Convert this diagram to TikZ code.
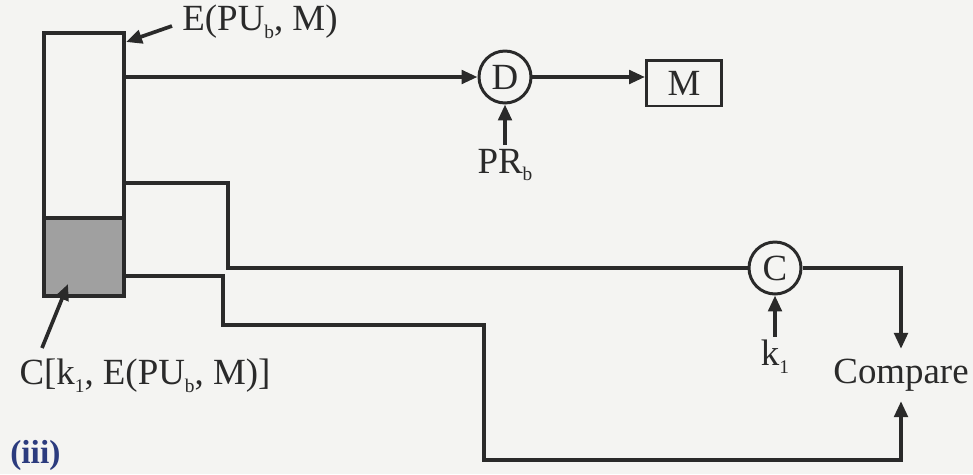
\documentclass[tikz,border=0pt]{standalone}
\usepackage{fontspec}
\setmainfont{Liberation Serif}
\usetikzlibrary{arrows.meta,calc}
\definecolor{ink}{HTML}{2A2A2A}
\definecolor{paper}{HTML}{F4F4F2}
\definecolor{shade}{HTML}{A0A0A0}
\definecolor{navy}{HTML}{2B3B7E}
% small, lowered subscript as set in the figure
\newcommand{\lowsub}[1]{\raisebox{-0.45ex}{\fontsize{11}{11}\selectfont #1}}

\begin{document}
\begin{tikzpicture}[x=0.02cm, y=-0.02cm,
  font=\fontsize{21}{25}\selectfont, text=ink,
  wire/.style={draw=ink, line width=2.1pt},
  arr/.style={wire, -{Triangle[length=0.32cm,width=0.27cm]}},
  opnode/.style={circle, draw=ink, line width=1.7pt, minimum size=1.04cm, inner sep=0pt},
  lbl/.style={inner sep=2pt}]

% page background and frame
\fill[paper] (0,0) rectangle (973,474);
\useasboundingbox (0,0) rectangle (973,474);

% transmitted block: encrypted message with appended MAC (shaded)
\node[fill=shade, draw=ink, line width=2.1pt, minimum width=1.6cm, minimum height=1.56cm, inner sep=0pt] (mac) at (84,257) {};
\node[draw=ink, line width=2.1pt, minimum width=1.6cm, minimum height=5.26cm, inner sep=0pt] (buf) at (84,164.5) {};

% operations
\node[opnode] (D) at (505,77) {D};
\node[draw=ink, line width=1.7pt, minimum width=1.5cm, minimum height=0.92cm, inner sep=0pt] (M) at (684,83) {M};
\node[opnode] (C) at (775,268) {C};
\node[inner sep=5.5pt] (cmp) at (901,375) {Compare};

% labels
\node[lbl] (elbl) at (260,22) {E(PU\lowsub{b}, M)};
\node[lbl] (prb) at (505,165) {PR\lowsub{b}};
\node[lbl] (k1) at (775,357) {k\lowsub{1}};
\node[lbl] (clbl) at (145,376) {C[k\lowsub{1}, E(PU\lowsub{b}, M)]};
\node[inner sep=0pt, anchor=south west, text=navy, font=\fontsize{19}{22}\selectfont\bfseries] (part) at (10,471) {(iii)};

% tap points on the block
\coordinate (t1) at (124,77);
\coordinate (t2) at (124,183);
\coordinate (t3) at (124,276);
\coordinate (etail) at (172,26);
\coordinate (ehit) at (126,42);
\coordinate (ctail) at (42,348);
\coordinate (chit) at (68,284);

% pointers from labels
\draw[arr] (etail) -- (ehit);
\draw[arr] (ctail) -- (chit);

% decryption path
\draw[arr] (t1) -- (D.west);
\draw[arr] (D.east) -- (D.east -| M.west);
\draw[arr] (prb.north) -- (D.south);

% MAC recomputation path
\draw[wire] (t2) -- (228,183) |- (C.west);
\draw[arr] (k1.north) -- (C.south);
\draw[arr] (C.east) -| (cmp.north);

% received MAC path
\draw[arr] (t3) -- (223,276) -- (223,325) -- (484,325) -- (484,460) -| (cmp.south);
\end{tikzpicture}
\end{document}
